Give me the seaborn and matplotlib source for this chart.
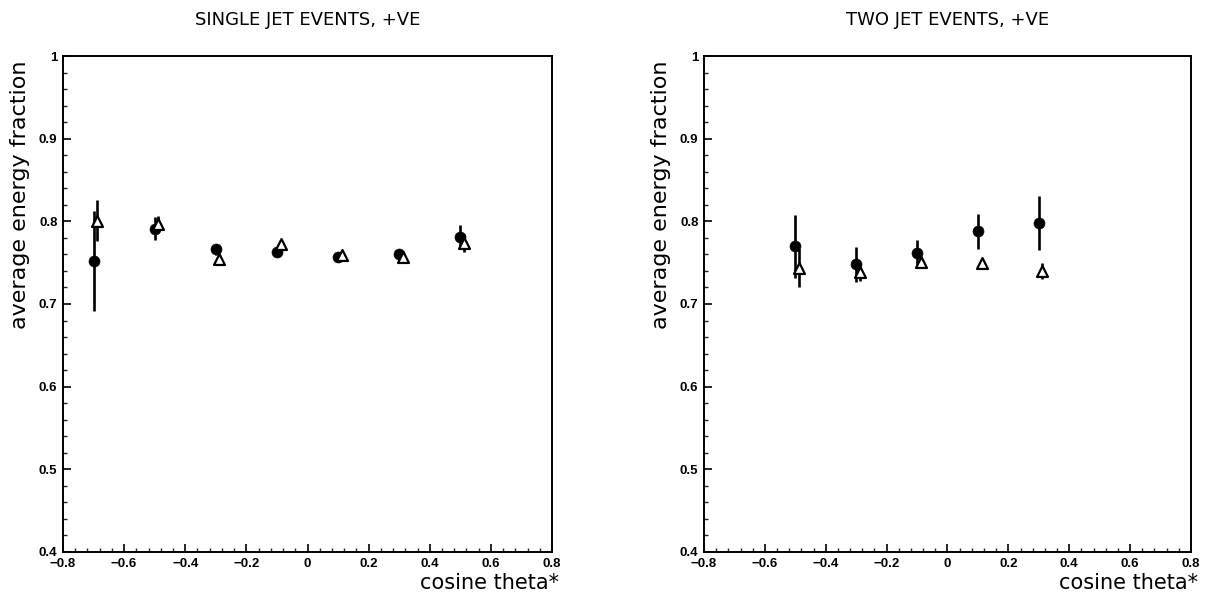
import numpy as np
import pandas as pd
import matplotlib
matplotlib.use("Agg")
import matplotlib.pyplot as plt
from matplotlib.ticker import MultipleLocator, FixedLocator
import seaborn as sns

# ---------------- data ----------------
titles = ["SINGLE JET EVENTS, +VE", "TWO JET EVENTS, +VE"]
xlabel = "cosine theta*"
ylabel = "average energy fraction"

x_single = [-0.7, -0.5, -0.3, -0.1, 0.1, 0.3, 0.5]
circ_single = [0.752, 0.791, 0.766, 0.763, 0.757, 0.761, 0.781]
circ_single_err = [0.060, 0.014, 0.007, 0.005, 0.004, 0.004, 0.014]
tri_single = [0.801, 0.797, 0.754, 0.773, 0.759, 0.757, 0.774]
tri_single_err = [0.025, 0.009, 0.005, 0.004, 0.003, 0.003, 0.011]

x_two = [-0.5, -0.3, -0.1, 0.1, 0.3]
circ_two = [0.770, 0.748, 0.762, 0.788, 0.798]
circ_two_err = [0.038, 0.021, 0.016, 0.021, 0.033]
tri_two = [0.743, 0.739, 0.751, 0.750, 0.740]
tri_two_err = [0.023, 0.011, 0.005, 0.004, 0.010]

tri_offset = 0.012

xticks = [-0.8, -0.6, -0.4, -0.2, 0.0, 0.2, 0.4, 0.6, 0.8]
xtick_labels = ["\u22120.8", "\u22120.6", "\u22120.4", "\u22120.2", "0", "0.2", "0.4", "0.6", "0.8"]
yticks = [0.4, 0.5, 0.6, 0.7, 0.8, 0.9, 1.0]
ytick_labels = ["0.4", "0.5", "0.6", "0.7", "0.8", "0.9", "1"]

# ---------------- style ----------------
sns.set_style("ticks")
plt.rcParams["font.family"] = ["DejaVu Sans"]

fig = plt.figure(figsize=(12.09, 5.92), dpi=100)
axes = [fig.add_axes([0.0521, 0.0676, 0.4045, 0.8378]),
        fig.add_axes([0.5823, 0.0676, 0.4028, 0.8378])]

panels = [
    (x_single, circ_single, circ_single_err, tri_single, tri_single_err),
    (x_two, circ_two, circ_two_err, tri_two, tri_two_err),
]

for ax, title, (xs, cy, ce, ty, te) in zip(axes, titles, panels):
    df_c = pd.DataFrame({"x": xs, "y": cy, "err": ce})
    df_t = pd.DataFrame({"x": np.array(xs) + tri_offset, "y": ty, "err": te})

    ax.errorbar(df_c["x"], df_c["y"], yerr=df_c["err"], fmt="none",
                ecolor="black", elinewidth=1.9, capsize=0, zorder=2)
    ax.errorbar(df_t["x"], df_t["y"], yerr=df_t["err"], fmt="none",
                ecolor="black", elinewidth=1.9, capsize=0, zorder=2)
    sns.scatterplot(data=df_c, x="x", y="y", ax=ax, marker="o", s=62,
                    color="black", edgecolor="black", linewidth=0.5, zorder=3)
    sns.scatterplot(data=df_t, x="x", y="y", ax=ax, marker="^", s=62,
                    facecolor="white", edgecolor="black", linewidth=1.6, zorder=4)

    ax.set_xlim(-0.8, 0.8)
    ax.set_ylim(0.4, 1.0)
    ax.xaxis.set_major_locator(FixedLocator(xticks))
    ax.set_xticklabels(xtick_labels)
    ax.yaxis.set_major_locator(FixedLocator(yticks))
    ax.set_yticklabels(ytick_labels)
    ax.xaxis.set_minor_locator(MultipleLocator(0.04))
    ax.yaxis.set_minor_locator(MultipleLocator(0.02))
    ax.tick_params(axis="both", which="major", direction="in", length=6, width=1.2,
                   labelsize=9.5, colors="black", pad=4)
    ax.tick_params(axis="both", which="minor", direction="in", length=3, width=1.0)
    ax.tick_params(top=False, right=False, which="both")
    for lab in ax.get_xticklabels() + ax.get_yticklabels():
        lab.set_fontweight("bold")
        lab.set_family("Liberation Sans")

    for side in ["top", "right", "left", "bottom"]:
        ax.spines[side].set_visible(True)
        ax.spines[side].set_color("black")
        ax.spines[side].set_linewidth(1.4)

    ax.set_xlabel("")
    ax.set_ylabel("")
    ax.set_title(title, fontsize=13, pad=22, color="black")
    ax.text(1.014, -0.0625, xlabel, transform=ax.transAxes, ha="right", va="center",
            fontsize=15, color="black")
    ax.text(-0.088, 0.72, ylabel, transform=ax.transAxes, ha="center", va="center",
            rotation=90, fontsize=16, color="black")

fig.savefig("out.png", dpi=100, facecolor="white")
